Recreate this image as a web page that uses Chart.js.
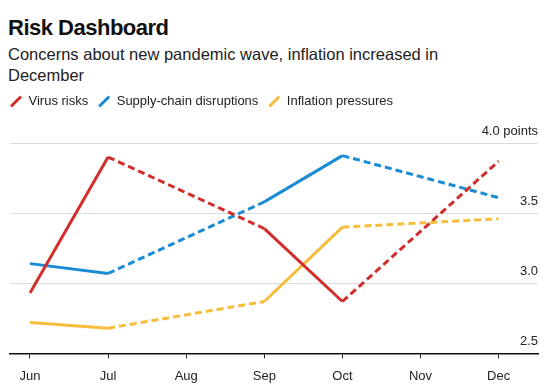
<!DOCTYPE html>
<html>
<head>
<meta charset="utf-8">
<script src="https://cdn.jsdelivr.net/npm/chart.js@4/dist/chart.umd.min.js"></script>
<style>
  html, body { margin: 0; padding: 0; background: #fff; }
  #wrap { position: relative; width: 551px; height: 389px; overflow: hidden; }
  #title { position: absolute; left: 8px; top: 15px; font: bold 22px/26px 'Liberation Sans', Arial, sans-serif; letter-spacing: -0.5px; color: #111; margin: 0; }
  #subtitle { position: absolute; left: 8px; top: 44px; width: 470px; font: 16.5px/21.3px 'Liberation Sans', Arial, sans-serif; color: #222; margin: 0; }
  canvas { position: absolute; left: 0; top: 0; }
</style>
</head>
<body>
<div id="wrap">
  <h1 id="title">Risk Dashboard</h1>
  <p id="subtitle">Concerns about new pandemic wave, inflation increased in December</p>
  <canvas id="c" width="551" height="389"></canvas>
</div>
<script>
const months = ['Jun', 'Jul', 'Aug', 'Sep', 'Oct', 'Nov', 'Dec'];
const virusRisks = [2.93, 3.90, null, 3.39, 2.87, null, 3.87];
const supplyChain = [3.14, 3.07, null, 3.58, 3.91, null, 3.61];
const inflationPressures = [2.72, 2.68, null, 2.87, 3.40, null, 3.46];
const seriesNames = ['Virus risks', 'Supply-chain disruptions', 'Inflation pressures'];
const yTickValues = [2.5, 3.0, 3.5, 4.0];
const yTickLabels = ['2.5', '3.0', '3.5', '4.0 points'];

const colors = ['#d12e2b', '#1a8bd5', '#f6bd3c'];
const FONT = "'Liberation Sans', Arial, sans-serif";
Chart.defaults.font.family = FONT;
Chart.defaults.color = '#222';

const toPoints = arr => months.map((m, i) => ({ x: i, y: arr[i] }));
const gapDash = (ctx) => (ctx.p0.skip || ctx.p1.skip) ? [7, 4] : undefined;

function makeDataset(label, arr, color) {
  return {
    label: label,
    data: toPoints(arr),
    borderColor: color,
    backgroundColor: color,
    borderWidth: 3,
    pointRadius: 0,
    pointHoverRadius: 0,
    pointStyle: 'line',
    pointRotation: -45,
    pointBorderColor: color,
    pointBorderWidth: 3,
    tension: 0,
    spanGaps: true,
    fill: false,
    segment: { borderDash: gapDash }
  };
}

const legendSpacing = {
  id: 'legendSpacing',
  beforeInit(chart) {
    if (!chart.legend) return;
    const fit = chart.legend.fit;
    chart.legend.fit = function () {
      fit.call(this);
      this.height += 25;
    };
  }
};

new Chart(document.getElementById('c'), {
  type: 'line',
  data: {
    datasets: [
      makeDataset(seriesNames[0], virusRisks, colors[0]),
      makeDataset(seriesNames[1], supplyChain, colors[1]),
      makeDataset(seriesNames[2], inflationPressures, colors[2])
    ]
  },
  plugins: [legendSpacing],
  options: {
    responsive: false,
    animation: false,
    layout: { padding: { top: 85, right: 13, bottom: -5, left: 0 } },
    plugins: {
      legend: {
        position: 'top',
        align: 'start',
        labels: {
          usePointStyle: true,
          boxWidth: 12,
          boxHeight: 10,
          padding: 10,
          color: '#222',
          font: { size: 13 }
        }
      },
      tooltip: { enabled: false },
      title: { display: false }
    },
    scales: {
      x: {
        type: 'linear',
        min: -0.256,
        max: 6.504,
        ticks: {
          stepSize: 1,
          includeBounds: false,
          autoSkip: false,
          maxRotation: 0,
          padding: 10,
          color: '#222',
          font: { size: 13 },
          callback: (v) => months[v] !== undefined ? months[v] : ''
        },
        grid: { display: true, drawOnChartArea: false, drawTicks: true, tickLength: 5, color: '#222', lineWidth: 1 },
        border: { display: true, color: '#111', width: 1.5 }
      },
      y: {
        position: 'right',
        min: 2.5,
        max: 4.0,
        ticks: {
          stepSize: 0.5,
          mirror: true,
          padding: 0,
          labelOffset: -12,
          color: '#222',
          font: { size: 13 },
          callback: (v) => {
            const idx = yTickValues.findIndex(t => Math.abs(t - v) < 1e-6);
            return idx >= 0 ? yTickLabels[idx] : '';
          }
        },
        grid: { color: '#dcdcdc', lineWidth: 1, drawTicks: false },
        border: { display: false }
      },
      yL: {
        position: 'left',
        display: true,
        ticks: { display: false },
        grid: { display: false },
        border: { display: false },
        afterFit: (s) => { s.width = 10; }
      }
    }
  }
});
</script>
</body>
</html>
